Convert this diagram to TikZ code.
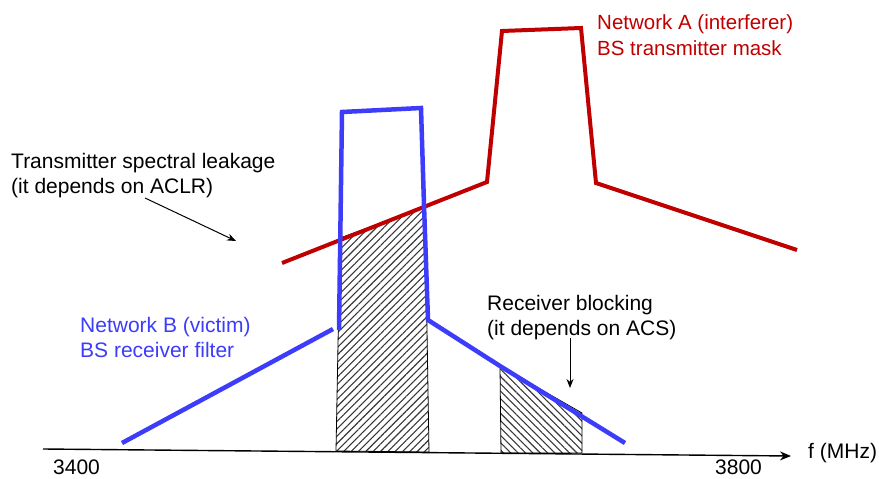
\documentclass[tikz,border=0pt]{standalone}
\usepackage{fontspec}
\setmainfont{Liberation Sans}
\usetikzlibrary{arrows.meta,patterns.meta}
\definecolor{netred}{RGB}{192,0,0}
\definecolor{netblue}{RGB}{60,60,250}
\definecolor{hatchgray}{RGB}{55,55,55}
\begin{document}
\begin{tikzpicture}[x=1pt,y=-1pt,
  lbl/.style={font=\fontsize{21}{25}\selectfont, inner sep=0pt, align=left, anchor=north west},
  num/.style={font=\fontsize{21}{25}\selectfont, inner sep=0pt, anchor=base west},
  redcurve/.style={draw=netred, line width=4pt, line join=miter},
  bluecurve/.style={draw=netblue, line width=4.5pt, line join=miter},
  hatchA/.style={draw=black, line width=0.8pt, pattern={Lines[angle=45,distance=5.2pt,line width=1.1pt]}, pattern color=hatchgray},
  hatchB/.style={draw=black, line width=0.8pt, pattern={Lines[angle=-45,distance=5.2pt,line width=1.1pt]}, pattern color=hatchgray},
  axisline/.style={draw=black, line width=1.4pt, -{Stealth[length=11pt,width=9pt]}},
  pointer/.style={draw=black, line width=1pt, -{Stealth[length=9pt,width=7pt]}}]
\useasboundingbox (0,0) rectangle (879,479);

% hatched interference areas
\path[hatchA] (336,451) -- (340,238) -- (425,207) -- (429,452) -- cycle;
\path[hatchB] (500,366) -- (582,413) -- (582,453) -- (501,453) -- cycle;

% frequency axis
\coordinate (axL) at (43,449);
\coordinate (axR) at (791,456);
\draw[axisline] (axL) -- (axR);

% Network A transmitter mask
\draw[redcurve] (282,263) -- (487,182) -- (502,31) -- (581,28) -- (596,183) -- (797,250);

% Network B receiver filter
\draw[bluecurve] (122,443) -- (333,329);
\draw[bluecurve] (339,330) -- (342,112) -- (421,108) -- (424,205) -- (428,320) -- (500,366) -- (625,443);

% labels
\node[lbl, text=netred, font=\fontsize{20.5}{26}\selectfont] (netA) at (597,14) {Network A (interferer)\\BS transmitter mask};
\node[lbl, text=netblue] (netB) at (80,317) {Network B (victim)\\BS receiver filter};
\node[lbl] (leak) at (11,153) {Transmitter spectral leakage\\(it depends on ACLR)};
\node[lbl] (block) at (487,295) {Receiver blocking\\(it depends on ACS)};
\node[num] (f3400) at (53,474) {3400};
\node[num] (f3800) at (715,474) {3800};
\node[num] (funit) at (808,458) {f (MHz)};

% pointers
\coordinate (leakS) at (145,198);
\coordinate (leakE) at (236,241);
\draw[pointer] (leakS) -- (leakE);
\coordinate (blockS) at (570,338);
\coordinate (blockE) at (570,388);
\draw[pointer] (blockS) -- (blockE);
\end{tikzpicture}
\end{document}
